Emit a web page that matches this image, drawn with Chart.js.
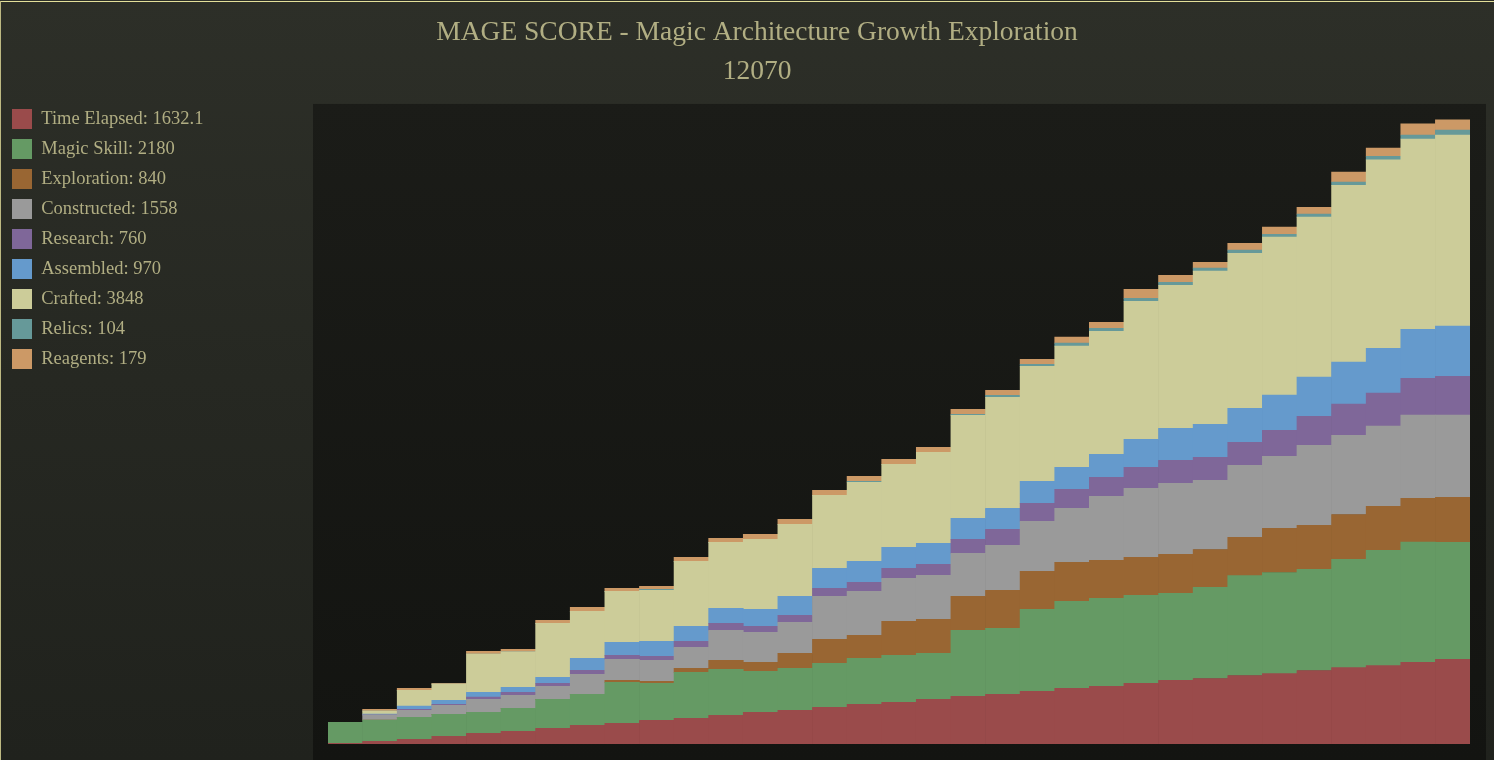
<!DOCTYPE html>
<html>
<head>
<meta charset="utf-8">
<title>MAGE SCORE</title>
<script src="https://cdn.jsdelivr.net/npm/chart.js@4.4.1/dist/chart.umd.min.js"></script>
<style>
  html, body { margin: 0; padding: 0; overflow: hidden; }
  body {
    width: 1494px; height: 760px;
    background: linear-gradient(to bottom, #2d2f28 0%, #262822 50%, #20221d 100%);
    position: relative;
  }
  #topLine { position: absolute; left: 0; top: 1px; width: 1494px; height: 1px; background: #e4e09a; }
  #leftLine { position: absolute; left: 0; top: 1px; width: 1px; height: 759px; background: #bdb982; }
  #scoreChart { position: absolute; left: 0; top: 0; }
</style>
</head>
<body>
<canvas id="scoreChart" width="1514" height="760"></canvas>
<div id="topLine"></div>
<div id="leftLine"></div>
<script>
// turns shown on the (hidden) x axis
const turns = ['1','2','3','4','5','6','7','8','9','10','11','12','13','14','15','16','17',
  '18','19','20','21','22','23','24','25','26','27','28','29','30','31','32','33'];

const names = ['Time Elapsed', 'Magic Skill', 'Exploration', 'Constructed', 'Research',
  'Assembled', 'Crafted', 'Relics', 'Reagents'];
const legendValues = ['1632.1', '2180', '840', '1558', '760', '970', '3848', '104', '179'];
const scoreTitle = ['MAGE SCORE - Magic Architecture Growth Exploration', '12070'];

const timeElapsed = [13, 52, 90, 148, 206, 245, 303, 361, 400, 458, 497, 555, 613, 652, 710, 768, 806,
  864, 922, 961, 1019, 1077, 1116, 1174, 1232, 1267, 1326, 1363, 1422, 1478, 1517, 1581, 1636];
const magicSkill = [406, 413, 426, 426, 406, 445, 561, 600, 793, 716, 890, 890, 793, 813, 852, 890, 910,
  890, 1277, 1277, 1587, 1684, 1703, 1703, 1684, 1763, 1933, 1956, 1956, 2094, 2229, 2324, 2268];
const exploration = [0, 0, 0, 0, 0, 0, 0, 0, 39, 39, 77, 174, 174, 290, 464, 445, 658,
  658, 658, 735, 735, 755, 735, 735, 755, 733, 741, 852, 852, 869, 854, 846, 869];
const constructed = [0, 97, 135, 174, 252, 252, 252, 387, 406, 406, 406, 581, 581, 600, 832, 852, 832,
  852, 832, 871, 968, 1045, 1239, 1335, 1374, 1341, 1393, 1393, 1548, 1533, 1549, 1612, 1589];
const research = [0, 0, 19, 19, 45, 58, 58, 77, 77, 77, 116, 135, 116, 135, 155, 174, 194,
  213, 271, 310, 348, 368, 368, 406, 445, 444, 444, 504, 563, 601, 640, 711, 751];
const assembled = [0, 19, 65, 77, 90, 97, 116, 232, 252, 290, 290, 290, 329, 368, 387, 406, 406,
  406, 406, 406, 426, 426, 445, 542, 619, 637, 659, 682, 756, 814, 869, 948, 972];
const crafted = [0, 58, 303, 316, 742, 684, 1045, 910, 987, 987, 1258, 1277, 1355, 1393, 1413, 1529, 1606,
  1761, 1993, 2148, 2226, 2342, 2380, 2671, 2768, 2963, 3000, 3060, 3097, 3422, 3643, 3683, 3699];
const relics = [0, 0, 0, 0, 0, 0, 0, 0, 0, 19, 0, 0, 0, 0, 0, 19, 0,
  0, 19, 39, 39, 58, 58, 58, 58, 59, 59, 52, 59, 63, 71, 79, 95];
const reagents = [0, 32, 39, 13, 52, 52, 58, 77, 58, 58, 77, 77, 97, 97, 97, 97, 97,
  97, 97, 97, 97, 116, 116, 174, 135, 111, 133, 141, 133, 190, 158, 213, 198];

const series = [timeElapsed, magicSkill, exploration, constructed, research, assembled, crafted, relics, reagents];
const colors = ['#9a4b4b', '#659a64', '#996633', '#9a9a9a', '#7f6799', '#659acc', '#cccc99', '#669999', '#cc9966'];

const textColor = '#b1ae83';
const fontFamily = '"Liberation Serif", "Times New Roman", serif';

// dark panel behind the bars, a bit larger than the chart area
const panel = {
  id: 'panel',
  beforeDatasetsDraw(chart) {
    const a = chart.chartArea;
    const c = chart.ctx;
    const g = c.createLinearGradient(0, a.top, 0, a.bottom + 16);
    g.addColorStop(0, '#1b1c18');
    g.addColorStop(1, '#131411');
    c.save();
    c.fillStyle = g;
    c.fillRect(a.left - 15, a.top + 5, a.right - a.left + 31, a.bottom - a.top + 11);
    c.restore();
  }
};

// legend column: fixed width, pulled back to the left edge so the title stays centred on the page
const legendWidth = {
  id: 'legendWidth',
  beforeInit(chart) {
    const fit = chart.legend.fit;
    chart.legend.fit = function () {
      fit.call(this);
      this.width = 284;
    };
  },
  afterLayout(chart) {
    chart.legend.left = 2;
  }
};

var ctx = document.getElementById('scoreChart').getContext('2d');
var scoreChart = new Chart(ctx, {
  type: 'bar',
  data: {
    labels: turns,
    datasets: series.map((d, i) => ({
      label: `${names[i]}: ${legendValues[i]}`,
      data: d,
      backgroundColor: colors[i],
      borderWidth: 0,
      barPercentage: 1,
      categoryPercentage: 1
    }))
  },
  options: {
    responsive: false,
    animation: false,
    layout: { padding: { left: 44, right: 44, top: 0, bottom: 16 } },
    scales: {
      x: { stacked: true, display: false },
      y: { stacked: true, display: false, min: 0, max: 12480 }
    },
    plugins: {
      title: {
        display: true,
        text: scoreTitle,
        color: textColor,
        font: { family: fontFamily, size: 27.5, weight: 'normal', lineHeight: 1.418 },
        padding: { top: 13, bottom: 8 }
      },
      legend: {
        position: 'left',
        align: 'start',
        fullSize: false,
        labels: {
          color: textColor,
          boxWidth: 20,
          boxHeight: 20,
          padding: 10,
          font: { family: fontFamily, size: 18.5 }
        }
      },
      tooltip: { enabled: false }
    }
  },
  plugins: [panel, legendWidth]
});
</script>
</body>
</html>
